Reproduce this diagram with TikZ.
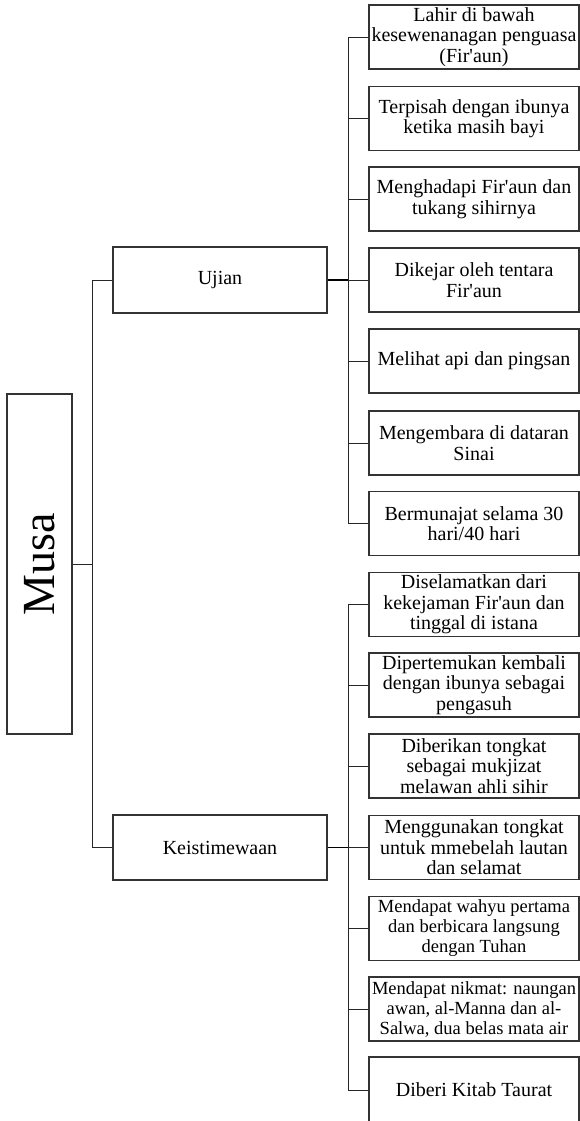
\documentclass[tikz,border=0pt]{standalone}
\usepackage{fontspec}
\setmainfont{Liberation Serif}[Ligatures=TeXOff]
\begin{document}
\begin{tikzpicture}[x=1pt,y=-1pt,
  box/.style={draw=black!80, line width=1.1pt, fill=white, inner sep=0pt, align=center,
    font=\fontsize{20}{20.5}\selectfont},
  child/.style={box, minimum width=210pt, minimum height=64pt},
  small/.style={font=\fontsize{18.5}{20}\selectfont},
  conn/.style={draw=black!85, line width=0.9pt},
  thick conn/.style={draw=black, line width=1.6pt}]
\useasboundingbox (0,0) rectangle (580,1121);
% root
\node[box, rotate=90, minimum width=340pt, minimum height=65pt,
      font=\fontsize{46}{50}\selectfont] (musa) at (39.5,564) {Musa};
% level 1
\node[box, minimum width=214pt, minimum height=66pt] (ujian) at (220,280) {Ujian};
\node[box, minimum width=214pt, minimum height=65pt] (keis) at (220,847.5) {Keistimewaan};
% Ujian children
\node[child] (u1) at (474,37) {Lahir di bawah\\kesewenanagan penguasa\\(Fir'aun)};
\node[child] (u2) at (474,118.5) {Terpisah dengan ibunya\\ketika masih bayi};
\node[child] (u3) at (474,199) {Menghadapi Fir'aun dan\\tukang sihirnya};
\node[child] (u4) at (474,280) {Dikejar oleh tentara\\Fir'aun};
\node[child] (u5) at (474,361) {Melihat api dan pingsan};
\node[child] (u6) at (474,443) {Mengembara di dataran\\Sinai};
\node[child] (u7) at (474,523.5) {Bermunajat selama 30\\hari/40 hari};
% Keistimewaan children
\node[child] (k1) at (474,604.5) {Diselamatkan dari\\kekejaman Fir'aun dan\\tinggal di istana};
\node[child] (k2) at (474,685) {Dipertemukan kembali\\dengan ibunya sebagai\\pengasuh};
\node[child] (k3) at (474,766) {Diberikan tongkat\\sebagai mukjizat\\melawan ahli sihir};
\node[child] (k4) at (474,847.5) {Menggunakan tongkat\\untuk mmebelah lautan\\dan selamat};
\node[child, small] (k5) at (474,928.5) {Mendapat wahyu pertama\\dan berbicara langsung\\dengan Tuhan};
\node[child, small] (k6) at (474,1009) {Mendapat nikmat: naungan\\awan, al-Manna dan al-\\Salwa, dua belas mata air};
\node[child, minimum height=66pt] (k7) at (474,1090) {Diberi Kitab Taurat};
% connectors root
\coordinate (mj) at ([xshift=20pt]musa.south);
\draw[conn] (musa.south) -- (mj);
\draw[conn] (mj) |- (ujian.west);
\draw[conn] (mj) |- (keis.west);
% connectors Ujian
\coordinate (uj) at ([xshift=21pt]ujian.east);
\draw[thick conn] (ujian.east) -- (uj);
\foreach \c in {u1,u2,u3,u4,u5,u6,u7}{\draw[conn] (uj) |- (\c.west);}
% connectors Keistimewaan
\coordinate (kj) at ([xshift=21pt]keis.east);
\draw[thick conn] (keis.east) -- (kj);
\foreach \c in {k1,k2,k3,k4,k5,k6,k7}{\draw[conn] (kj) |- (\c.west);}
\end{tikzpicture}
\end{document}
